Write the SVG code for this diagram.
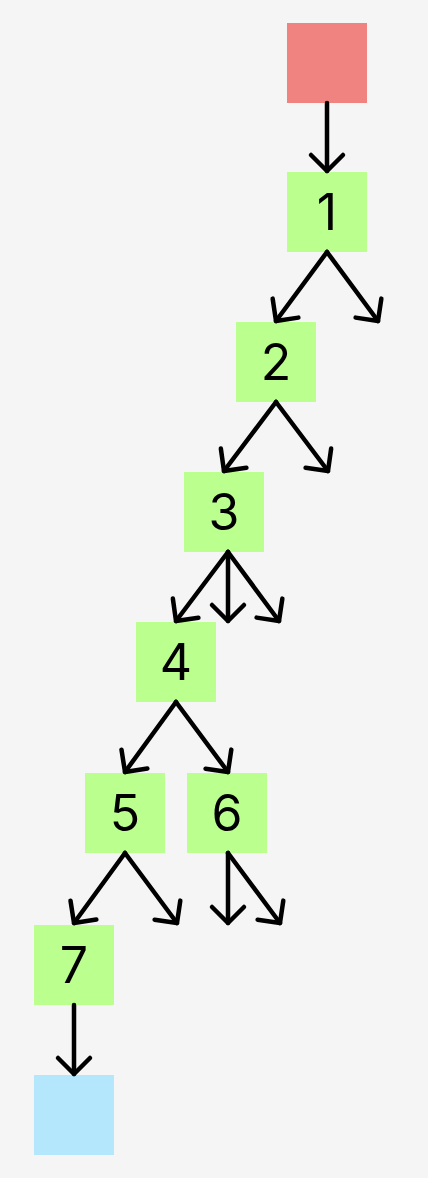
<svg xmlns="http://www.w3.org/2000/svg" width="428" height="1178" viewBox="0 0 428 1178">
<style>
.bg{fill:#f5f5f5}
.n{fill:#bbff8f}
.start{fill:#f08380}
.end{fill:#b4e7fb}
.t{font-family:Inter,"Liberation Sans",sans-serif;font-size:50px;fill:#000;text-anchor:middle}
.e{stroke:#000;stroke-width:4.5;stroke-linecap:round;fill:none;marker-end:url(#ah)}
</style>
<defs>
<marker id="ah" markerUnits="userSpaceOnUse" viewBox="-20 -20 26 40" markerWidth="26" markerHeight="40" refX="0" refY="0" orient="auto" overflow="visible">
<path d="M-16,-16 L0,0 L-16,16" fill="none" stroke="#000" stroke-width="4.5" stroke-linecap="round" stroke-linejoin="round"/>
</marker>
</defs>
<rect class="bg" x="0" y="0" width="428" height="1178"/>
<g id="start"><rect class="start" x="287" y="23" width="80" height="80"/></g>
<g id="n1"><rect class="n" x="287" y="172" width="80" height="80"/><text class="t" x="327" y="230">1</text></g>
<g id="n2"><rect class="n" x="236" y="322" width="80" height="80"/><text class="t" x="276" y="380">2</text></g>
<g id="n3"><rect class="n" x="184" y="472" width="80" height="80"/><text class="t" x="224" y="530">3</text></g>
<g id="n4"><rect class="n" x="136" y="622" width="80" height="80"/><text class="t" x="176" y="680">4</text></g>
<g id="n5"><rect class="n" x="85" y="773" width="80" height="80"/><text class="t" x="125" y="831">5</text></g>
<g id="n6"><rect class="n" x="187" y="773" width="80" height="80"/><text class="t" x="227" y="831">6</text></g>
<g id="n7"><rect class="n" x="34" y="925" width="80" height="80"/><text class="t" x="74" y="983">7</text></g>
<g id="end"><rect class="end" x="34" y="1075" width="80" height="80"/></g>
<g id="edges">
<line class="e" x1="327" y1="103" x2="327" y2="171"/>
<line class="e" x1="327" y1="252" x2="276" y2="321"/>
<line class="e" x1="327" y1="252" x2="378" y2="321"/>
<line class="e" x1="276" y1="402" x2="224" y2="471"/>
<line class="e" x1="276" y1="402" x2="328" y2="471"/>
<line class="e" x1="228" y1="552" x2="176" y2="621"/>
<line class="e" x1="228" y1="552" x2="228" y2="621"/>
<line class="e" x1="228" y1="552" x2="279" y2="621"/>
<line class="e" x1="176" y1="702" x2="125" y2="772"/>
<line class="e" x1="176" y1="702" x2="228" y2="772"/>
<line class="e" x1="125" y1="853" x2="74" y2="923"/>
<line class="e" x1="125" y1="853" x2="177" y2="923"/>
<line class="e" x1="228" y1="853" x2="228" y2="923"/>
<line class="e" x1="228" y1="853" x2="280" y2="923"/>
<line class="e" x1="74" y1="1005" x2="74" y2="1074"/>
</g>
</svg>
